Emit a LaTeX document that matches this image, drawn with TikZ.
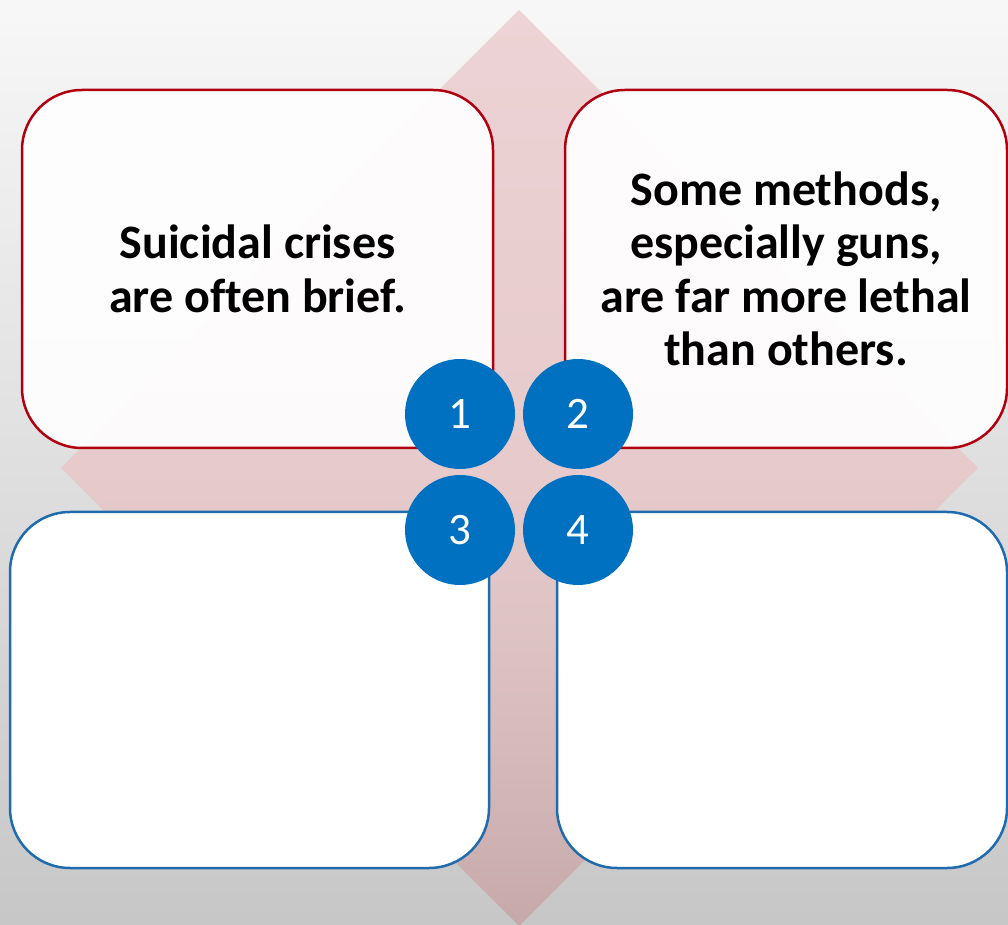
\documentclass[tikz,border=0pt]{standalone}
\usepackage{fontspec}
\setmainfont{Carlito}[Ligatures=CommonOff]
\usetikzlibrary{positioning}

\definecolor{crisisred}{HTML}{B0000F}
\definecolor{planblue}{HTML}{1F6BAE}
\definecolor{numblue}{HTML}{0070C0}
\definecolor{pinktop}{HTML}{EDD3D5}
\definecolor{pinkmid}{HTML}{E6CACC}
\definecolor{pinkdeep}{HTML}{DEC3C5}
\definecolor{pinklow}{HTML}{CDB0B2}
\definecolor{pinkbot}{HTML}{C7A8AA}

% soft vertical fade of the diamond
\pgfdeclareverticalshading{pinkfade}{100bp}{color(0bp)=(pinkbot); color(25bp)=(pinkbot);
  color(29bp)=(pinklow); color(41bp)=(pinkdeep); color(50bp)=(pinkmid);
  color(75bp)=(pinktop); color(100bp)=(pinktop)}

\tikzset{
  card/.style={rectangle, rounded corners=60pt, line width=2.5pt, minimum height=358pt,
    align=center, inner sep=0pt, font=\fontsize{48}{53.5}\selectfont\bfseries},
  redcard/.style={card, draw=crisisred, fill=white, fill opacity=0.92, text opacity=1},
  bluecard/.style={card, draw=planblue, fill=white},
  numdot/.style={circle, fill=numblue, minimum size=110pt, inner sep=0pt,
    text=white, font=\fontsize{45}{45}\selectfont}
}

\begin{document}
\begin{tikzpicture}[x=1pt, y=1pt]
    \useasboundingbox (0,0) rectangle (1008,924);
    % background
    \shade[top color=black!3, middle color=black!6, bottom color=black!22] (0,0) rectangle (1008,924);

    % pink diamond behind the cards
    \shade[shading=pinkfade] (519,914) -- (978,456) -- (519,-2) -- (61,456) -- cycle;

    % the four cards
    \node[redcard, minimum width=471pt] (brief) at (257.5,655) {Suicidal crises\\are often brief.};
    \node[redcard, minimum width=442pt] (lethal) at (786,655) {Some methods,\\especially guns,\\are far more lethal\\than others.};
    \node[bluecard, minimum width=479pt, minimum height=356pt] (cardthree) at (249.5,234) {};
    \node[bluecard, minimum width=450pt, minimum height=356pt] (cardfour) at (782,234) {};

    % numbered dots
    \node[numdot] (one) at (460,510) {1};
    \node[numdot] (two) at (578,510) {2};
    \node[numdot] (three) at (460,394) {3};
    \node[numdot] (four) at (578,394) {4};
\end{tikzpicture}
\end{document}
